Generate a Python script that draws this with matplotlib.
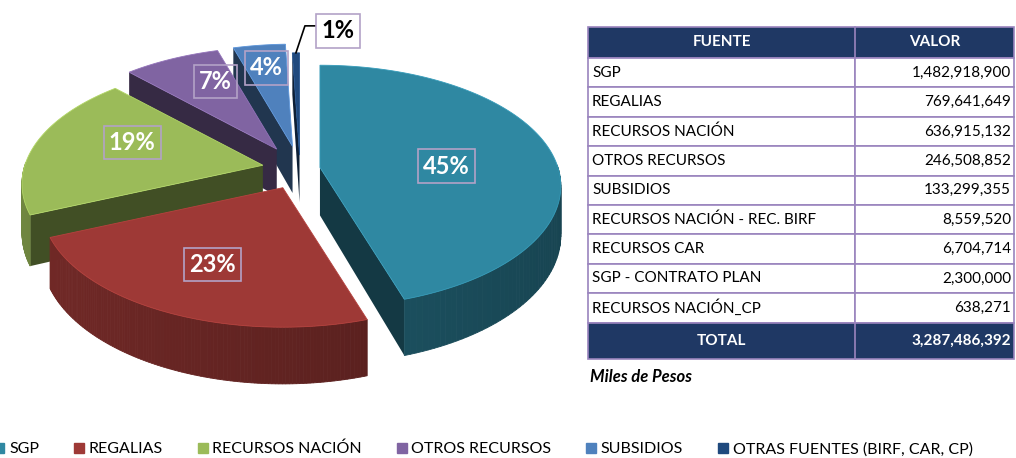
import numpy as np
import matplotlib.pyplot as plt
from matplotlib.patches import Polygon, Rectangle
from matplotlib.lines import Line2D
from matplotlib.colors import to_rgb

plt.rcParams['font.family'] = ['Lato', 'DejaVu Sans']

# table data (miles de pesos)
fuentes = ['SGP', 'REGALIAS', 'RECURSOS NACIÓN', 'OTROS RECURSOS', 'SUBSIDIOS',
           'RECURSOS NACIÓN - REC. BIRF', 'RECURSOS CAR', 'SGP - CONTRATO PLAN',
           'RECURSOS NACIÓN_CP']
valores = [1482918900, 769641649, 636915132, 246508852, 133299355,
           8559520, 6704714, 2300000, 638271]
total = 3287486392

# pie groups
grupos = ['SGP', 'REGALIAS', 'RECURSOS NACIÓN', 'OTROS RECURSOS', 'SUBSIDIOS',
          'OTRAS FUENTES (BIRF, CAR, CP)']
valores_grupo = valores[:5] + [sum(valores[5:])]
colores = ['#2F88A2', '#9E3936', '#9BBB59', '#8064A2', '#4F81BD', '#1F497D']
explode = [0.085, 0.17, 0.16, 0.2, 0.2, 0.12]

fig = plt.figure(figsize=(10.16, 4.58), dpi=100)
ax = fig.add_axes([0, 0, 1, 1])
ax.set_xlim(0, 1016)
ax.set_ylim(458, 0)
ax.axis('off')

# ---- 3D exploded pie (pixel space) ----
cx, cy = 300, 169
R, r, e, d = 238, 118, 0.154, 48


def persp(ang, rad=1.0):
    return 1 / (1 + e * np.sin(np.radians(ang)) * rad)


def outer(ang, rad=1.0):
    a = np.radians(ang)
    p = persp(ang, rad)
    return R * rad * np.cos(a) * p, -r * rad * np.sin(a) * p


def shade(c, k):
    return tuple(np.clip(np.array(to_rgb(c)) * k, 0, 1))


fracs = np.array(valores_grupo) / sum(valores_grupo)
starts = 90 - 360 * np.concatenate([[0], np.cumsum(fracs)[:-1]])
ends = starts - 360 * fracs
mids = (starts + ends) / 2

slices = []
for i in range(len(fracs)):
    dx, dy = outer(mids[i], explode[i])
    slices.append((cx + dx, cy + dy))

order = np.argsort(-np.sin(np.radians(mids)))
for i in order:
    ox, oy = slices[i]
    th1, th2 = starts[i], ends[i]
    angs = np.linspace(th1, th2, 120)
    pts = np.array([outer(a) for a in angs]) + [ox, oy]
    depth = np.array([d * persp(a) for a in angs])
    d0 = d * persp(mids[i], explode[i])
    col = colores[i]
    # radial walls
    for th, vis in ((th1, np.cos(np.radians(th1)) < -0.01),
                    (th2, np.cos(np.radians(th2)) > 0.01)):
        if vis:
            px, py = np.array(outer(th)) + [ox, oy]
            dp = d * persp(th)
            ax.add_patch(Polygon([(ox, oy), (px, py), (px, py + dp), (ox, oy + d0)],
                                 closed=True, fc=shade(col, 0.42), ec='none', zorder=2))
    # outer front wall
    for j in range(len(angs) - 1):
        am = (angs[j] + angs[j + 1]) / 2
        if np.sin(np.radians(am)) < 0.02:
            k = 0.72 - 0.22 * (np.cos(np.radians(am)) + 1) / 2
            (x1, y1), (x2, y2) = pts[j], pts[j + 1]
            ax.add_patch(Polygon([(x1, y1), (x2, y2), (x2, y2 + depth[j + 1]),
                                  (x1, y1 + depth[j])],
                                 closed=True, fc=shade(col, k), ec=shade(col, k),
                                 lw=0.6, zorder=2))
    # top face
    ax.add_patch(Polygon(np.vstack([[ox, oy], pts]), closed=True, fc=col,
                         ec=shade(col, 1.15), lw=0.6, zorder=3))

# percentage labels (radial fraction and angle shift from slice middle)
lab_frac = [0.534, 0.65, 0.6, 0.69, 0.75]
lab_shift = [-7.5, 0, -8, -6, 0]
for i in range(5):
    ox, oy = slices[i]
    dx, dy = outer(mids[i] + lab_shift[i], lab_frac[i])
    ax.text(ox + dx, oy + dy, f'{fracs[i] * 100:.0f}%', color='white',
            fontsize=17, fontweight='bold', ha='center', va='center', zorder=5,
            bbox=dict(boxstyle='square,pad=0.22', fc='none', ec='#B3A2C7', lw=1.2))

# small slice label with leader line
ox, oy = slices[5]
sx, sy = np.array(outer(mids[5])) + [ox, oy]
ax.plot([sx, sx + 9, sx + 20], [sy, sy - 27, sy - 27], color='black', lw=1.2, zorder=4)
ax.text(sx + 42, sy - 22, f'{fracs[5] * 100:.0f}%', color='black', fontsize=17,
        fontweight='bold', ha='center', va='center', zorder=5,
        bbox=dict(boxstyle='square,pad=0.22', fc='white', ec='#B3A2C7', lw=1.2))

# ---- table ----
x0, x1, x2 = 588, 855, 1014
y_head, h_head, h_row = 27, 31, 29.4
navy = '#1F3864'
line_c = '#9A84BE'

ax.add_patch(Rectangle((x0, y_head), x2 - x0, h_head, fc=navy, ec=line_c, lw=1.2, zorder=2))
ax.text((x0 + x1) / 2, y_head + h_head / 2, 'FUENTE', color='white', fontsize=11,
        fontweight='bold', ha='center', va='center', zorder=3)
ax.text((x1 + x2) / 2, y_head + h_head / 2, 'VALOR', color='white', fontsize=11,
        fontweight='bold', ha='center', va='center', zorder=3)

y = y_head + h_head
for f, v in zip(fuentes, valores):
    ax.add_patch(Rectangle((x0, y), x1 - x0, h_row, fc='white', ec=line_c, lw=1.2, zorder=2))
    ax.add_patch(Rectangle((x1, y), x2 - x1, h_row, fc='white', ec=line_c, lw=1.2, zorder=2))
    ax.text(x0 + 4, y + h_row / 2, f, fontsize=11, ha='left', va='center', zorder=3)
    ax.text(x2 - 3, y + h_row / 2, f'{v:,}', fontsize=11, ha='right', va='center', zorder=3)
    y += h_row

h_tot = 36
ax.add_patch(Rectangle((x0, y), x2 - x0, h_tot, fc=navy, ec=line_c, lw=1.2, zorder=2))
ax.plot([x1, x1], [y, y + h_tot], color=line_c, lw=1.2, zorder=3)
ax.plot([x1, x1], [y_head, y_head + h_head], color=line_c, lw=1.2, zorder=3)
ax.text((x0 + x1) / 2, y + h_tot / 2, 'TOTAL', color='white', fontsize=11,
        fontweight='bold', ha='center', va='center', zorder=3)
ax.text(x2 - 3, y + h_tot / 2, f'{total:,}', color='white', fontsize=11,
        fontweight='bold', ha='right', va='center', zorder=3)
ax.text(x0 + 2, y + h_tot + 18, 'Miles de Pesos', fontsize=12, fontweight='bold',
        fontstyle='italic', ha='left', va='center')

# ---- legend ----
handles = [Line2D([], [], marker='s', ls='', color=c, markersize=7) for c in colores]
fig.legend(handles, grupos, loc='lower center', bbox_to_anchor=(0.476, -0.028), ncol=6,
           frameon=False, fontsize=11.5, handlelength=0.6, handletextpad=0.3,
           columnspacing=2.2)

fig.savefig('out.png', dpi=100)
